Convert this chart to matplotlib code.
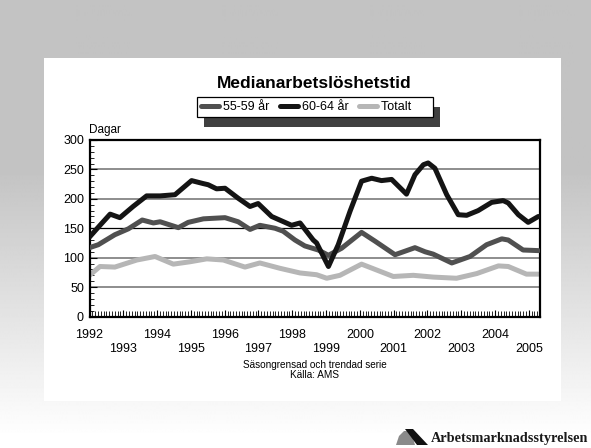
import numpy as np
import matplotlib
matplotlib.use("Agg")
import matplotlib.pyplot as plt
from matplotlib.patches import Rectangle, Polygon
from matplotlib.ticker import MultipleLocator, FixedLocator

plt.rcParams['font.family'] = ['Liberation Sans', 'DejaVu Sans']

# ---- data (decimal year, days) ----
t_6064 = [1992.0, 1992.31, 1992.61, 1992.9, 1993.29, 1993.69, 1994.09, 1994.53,
          1995.02, 1995.36, 1995.51, 1995.76, 1996.01, 1996.4, 1996.75, 1996.99,
          1997.39, 1997.98, 1998.23, 1998.62, 1998.72, 1999.07, 1999.36, 1999.71,
          2000.05, 2000.35, 2000.64, 2000.94, 2001.38, 2001.63, 2001.88, 2002.02,
          2002.22, 2002.57, 2002.91, 2003.16, 2003.5, 2003.9, 2004.24, 2004.39,
          2004.69, 2004.98, 2005.28]
v_6064 = [135, 155, 174, 168, 187, 205, 205, 207,
          231, 226, 224, 217, 218, 201, 187, 192,
          170, 155, 159, 130, 125, 85, 122, 179,
          230, 235, 231, 233, 208, 241, 258, 261,
          252, 207, 173, 172, 180, 194, 197, 193,
          173, 160, 170]

t_5559 = [1992.0, 1992.26, 1992.75, 1993.15, 1993.56, 1993.89, 1994.09, 1994.63,
          1994.92, 1995.37, 1996.01, 1996.4, 1996.75, 1997.04, 1997.49, 1997.73,
          1998.08, 1998.37, 1998.77, 1999.07, 1999.46, 2000.05, 2000.45, 2001.04,
          2001.63, 2001.93, 2002.17, 2002.72, 2003.26, 2003.75, 2004.2, 2004.39,
          2004.83, 2005.28]
v_5559 = [117, 122, 139, 149, 164, 159, 161, 151,
          160, 166, 168, 161, 148, 155, 150, 145,
          130, 120, 113, 104, 116, 143, 128, 105,
          117, 110, 106, 91, 102, 122, 132, 130,
          113, 112]

t_tot = [1992.0, 1992.31, 1992.75, 1993.4, 1993.94, 1994.48, 1994.97, 1995.47,
         1995.96, 1996.6, 1997.04, 1997.63, 1998.23, 1998.72, 1999.02, 1999.41,
         2000.05, 2000.99, 2001.58, 2002.17, 2002.86, 2003.46, 2004.1, 2004.39,
         2004.93, 2005.28]
v_tot = [70, 85, 84, 96, 102, 89, 93, 98,
         96, 84, 91, 82, 74, 71, 65, 70,
         89, 68, 70, 67, 65, 73, 86, 85,
         72, 72]

years = list(range(1992, 2006))
yticks = [0, 50, 100, 150, 200, 250, 300]

W, H = 591, 448
fig = plt.figure(figsize=(W / 100, H / 100), dpi=100)

def fx(x):
    return x / W

def fy(y):
    return 1 - y / H

# background gradient
bg = fig.add_axes([0, 0, 1, 1], zorder=-10)
rows = np.arange(H)
g = np.where(rows < 170, 0.765, 0.765 + (rows - 170) / (420 - 170) * (0.985 - 0.765))
g = np.clip(g, 0, 1.0)
bg.imshow(np.repeat(g[:, None], 4, axis=1), cmap='gray', vmin=0, vmax=1,
          aspect='auto', extent=[0, 1, 0, 1])
bg.axis('off')

# white panel
fig.patches.append(Rectangle((fx(44), fy(401)), fx(561) - fx(44), fy(58) - fy(401),
                             transform=fig.transFigure, facecolor='white',
                             edgecolor='none', zorder=-5))

ax = fig.add_axes([fx(89.5), fy(316.5), fx(540) - fx(89.5), fy(140) - fy(316.5)])
ax.set_facecolor('white')

for yv in yticks[1:-1]:
    if yv == 150:
        ax.axhline(yv, color='black', lw=0.9, zorder=1)
    else:
        ax.axhline(yv, color='#7a7a7a', lw=1.2, zorder=1)

lw = 3.6
ax.plot(t_5559, v_5559, color='#505050', lw=lw, solid_capstyle='round',
        solid_joinstyle='round', label='55-59 år', zorder=3)
ax.plot(t_6064, v_6064, color='#141414', lw=lw, solid_capstyle='round',
        solid_joinstyle='round', label='60-64 år', zorder=4)
ax.plot(t_tot, v_tot, color='#b6b6b6', lw=lw, solid_capstyle='round',
        solid_joinstyle='round', label='Totalt     ', zorder=2)

ax.set_xlim(1992.0, 2005.33)
ax.set_ylim(0, 300)

for s in ax.spines.values():
    s.set_linewidth(1.6)
    s.set_color('black')

ax.xaxis.set_major_locator(FixedLocator(years))
ax.set_xticklabels([str(y) if y % 2 == 0 else '\n' + str(y) for y in years],
                   fontsize=9, linespacing=1.25)
ax.xaxis.set_minor_locator(MultipleLocator(1 / 12))
ax.tick_params(axis='x', which='major', direction='in', length=5, width=0.8, pad=9)
ax.tick_params(axis='x', which='minor', direction='in', length=4, width=0.6)

ax.set_yticks(yticks)
ax.set_yticklabels([str(v) for v in yticks], fontsize=9)
ax.yaxis.set_minor_locator(MultipleLocator(10))
ax.tick_params(axis='y', which='major', direction='in', length=5, width=0.8, pad=4)
ax.tick_params(axis='y', which='minor', direction='in', length=3, width=0.6)

ax.text(0.0, 1.02, 'Dagar', transform=ax.transAxes, fontsize=8.5,
        ha='left', va='bottom')

fig.text(fx(314), fy(83), 'Medianarbetslöshetstid', fontsize=12.5,
         fontweight='bold', ha='center', va='center')

leg = ax.legend(loc='center', bbox_to_anchor=(fx(315), fy(107)),
                bbox_transform=fig.transFigure, ncol=3, fontsize=9,
                frameon=True, fancybox=False, edgecolor='black', framealpha=1,
                handlelength=1.45, handletextpad=0.3, columnspacing=0.85,
                borderpad=0.3, borderaxespad=0)
leg.get_frame().set_linewidth(0.9)

# drop shadow behind the legend box
fig.canvas.draw()
bb = leg.get_window_extent()
fig.patches.append(Rectangle((bb.x0 + 7, bb.y0 - 10), bb.width, bb.height,
                             transform=None, facecolor='#404040',
                             edgecolor='none', zorder=-4))

fig.text(fx(315), fy(365), 'Säsongrensad och trendad serie', fontsize=7.2,
         ha='center', va='center')
fig.text(fx(315), fy(374.5), 'Källa: AMS', fontsize=7.2, ha='center', va='center')

# logo
fig.text(fx(431), fy(438), 'Arbetsmarknadsstyrelsen', fontsize=10.3,
         family='Liberation Serif', fontweight='bold', ha='left', va='center',
         color='#1a1a1a')
fig.patches.append(Polygon([(fx(396), fy(445)), (fx(399), fy(436)), (fx(404), fy(431)),
                            (fx(408), fy(431)), (fx(413), fy(438)), (fx(415), fy(445))],
                           closed=True, transform=fig.transFigure,
                           facecolor='#8a8a8a', edgecolor='none'))
fig.patches.append(Polygon([(fx(405), fy(429)), (fx(413), fy(429)), (fx(428), fy(445)),
                            (fx(417), fy(445))],
                           closed=True, transform=fig.transFigure,
                           facecolor='#111111', edgecolor='none'))

fig.savefig('out.png', dpi=100)
